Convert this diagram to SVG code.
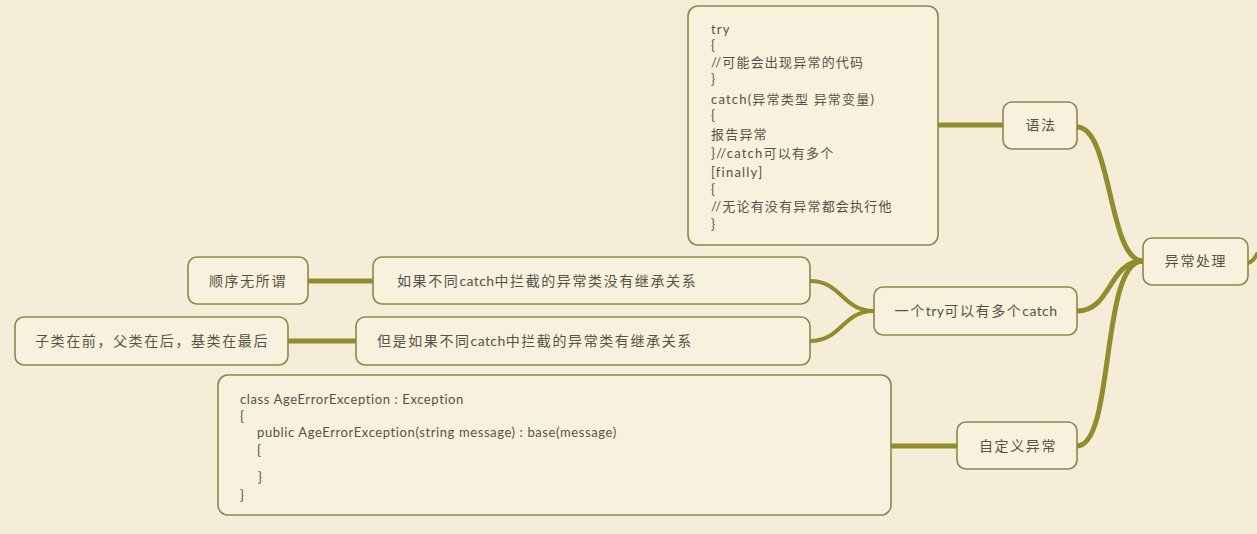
<svg xmlns="http://www.w3.org/2000/svg" width="1257" height="534" viewBox="0 0 1257 534">
<style>
.bg{fill:#f5edd8}
.box{fill:#f8f1de;stroke:#8a8948;stroke-width:1.6}
.t{font-family:"Lato","Noto Sans CJK SC",sans-serif;fill:#55534a}
.n{font-size:14px;letter-spacing:1.6px}
.l{letter-spacing:0.4px}
.c{text-anchor:middle}
.code{font-size:13px;letter-spacing:1.2px}
.cls{font-size:13px;letter-spacing:0.6px}
.ln{fill:none;stroke:#908d2c;stroke-linecap:round}
</style>
<rect class="bg" x="0" y="0" width="1257" height="534"/>
<g id="connectors">
<path class="ln" stroke-width="5" d="M1143,261 C1108,261 1112,127 1077,127"/>
<path class="ln" stroke-width="5" d="M1143,261 C1108,261 1112,311 1077,311"/>
<path class="ln" stroke-width="5" d="M1143,261 C1100,261 1115,446 1077,446"/>
<path class="ln" stroke-width="4" d="M1248,263 C1252,262 1255,258 1257,254"/>
<path class="ln" stroke-width="5" d="M938,125 L1003,125"/>
<path class="ln" stroke-width="5" d="M891,446 L957,446"/>
<path class="ln" stroke-width="4" d="M874,311 C842,311 842,281 810,281"/>
<path class="ln" stroke-width="4" d="M874,311 C842,311 842,341 810,341"/>
<path class="ln" stroke-width="5" d="M308,281 L373,281"/>
<path class="ln" stroke-width="5" d="M288,341 L356,341"/>
</g>
<g id="root">
<rect class="box" x="1143" y="238" width="105" height="47" rx="9"/>
<text class="t n c" x="1196" y="266">异常处理</text>
</g>
<g id="yufa">
<rect class="box" x="1003" y="102" width="74" height="47" rx="9"/>
<text class="t n c" x="1041" y="130">语法</text>
</g>
<g id="trycode">
<rect class="box" x="688" y="6" width="250" height="239" rx="10"/>
<text class="t code" x="711" y="34">try</text>
<text class="t code" x="711" y="50">{</text>
<text class="t code" x="711" y="67">//可能会出现异常的代码</text>
<text class="t code" x="711" y="84">}</text>
<text class="t code" x="711" y="104">catch(异常类型 异常变量)</text>
<text class="t code" x="711" y="120">{</text>
<text class="t code" x="711" y="139">报告异常</text>
<text class="t code" x="711" y="158">}//catch可以有多个</text>
<text class="t code" x="711" y="177">[finally]</text>
<text class="t code" x="711" y="194">{</text>
<text class="t code" x="711" y="211">//无论有没有异常都会执行他</text>
<text class="t code" x="711" y="229">}</text>
</g>
<g id="multicatch">
<rect class="box" x="874" y="287" width="203" height="48" rx="9"/>
<text class="t n c" x="976" y="316">一个<tspan class="l">try</tspan>可以有多个<tspan class="l">catch</tspan></text>
</g>
<g id="noinherit">
<rect class="box" x="373" y="257" width="437" height="47" rx="9"/>
<text class="t n" x="397" y="286">如果不同<tspan class="l">catch</tspan>中拦截的异常类没有继承关系</text>
</g>
<g id="inherit">
<rect class="box" x="356" y="317" width="454" height="48" rx="9"/>
<text class="t n" x="377" y="346">但是如果不同<tspan class="l">catch</tspan>中拦截的异常类有继承关系</text>
</g>
<g id="order">
<rect class="box" x="188" y="257" width="120" height="47" rx="9"/>
<text class="t n c" x="248" y="286">顺序无所谓</text>
</g>
<g id="subclass">
<rect class="box" x="15" y="317" width="273" height="48" rx="9"/>
<text class="t n c" x="152" y="346">子类在前，父类在后，基类在最后</text>
</g>
<g id="custom">
<rect class="box" x="957" y="422" width="120" height="47" rx="9"/>
<text class="t n c" x="1018" y="451">自定义异常</text>
</g>
<g id="classcode">
<rect class="box" x="218" y="375" width="673" height="140" rx="10"/>
<text class="t cls" x="240" y="404">class AgeErrorException : Exception</text>
<text class="t cls" x="240" y="421">{</text>
<text class="t cls" x="257" y="437">public AgeErrorException(string message) : base(message)</text>
<text class="t cls" x="257" y="455">{</text>
<text class="t cls" x="258" y="482">}</text>
<text class="t cls" x="240" y="500">}</text>
</g>
</svg>
